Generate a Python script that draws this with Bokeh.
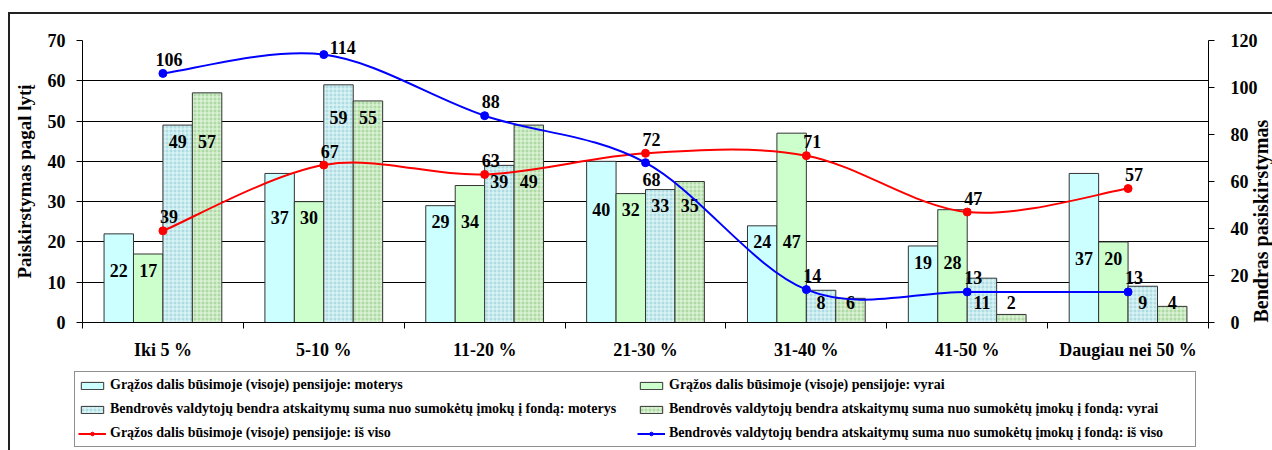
import math
import numpy as np
from bokeh.plotting import figure
from bokeh.layouts import column
from bokeh.models import Range1d, LinearAxis, FixedTicker, Legend, LegendItem
from bokeh.core.properties import value
from bokeh.embed import file_html
from bokeh.resources import INLINE

# ---------------- data ----------------
categories = ["Iki 5 %", "5-10 %", "11-20 %", "21-30 %", "31-40 %", "41-50 %", "Daugiau nei 50 %"]
grazos_moterys = [22, 37, 29, 40, 24, 19, 37]
grazos_vyrai = [17, 30, 34, 32, 47, 28, 20]
bendroves_moterys = [49, 59, 39, 33, 8, 11, 9]
bendroves_vyrai = [57, 55, 49, 35, 6, 2, 4]
grazos_is_viso = [39, 67, 63, 72, 71, 47, 57]
bendroves_is_viso = [106, 114, 88, 68, 14, 13, 13]

bar_names = [
    "Grąžos dalis būsimoje (visoje) pensijoje: moterys",
    "Grąžos dalis būsimoje (visoje) pensijoje: vyrai",
    "Bendrovės valdytojų bendra atskaitymų suma nuo sumokėtų įmokų į fondą: moterys",
    "Bendrovės valdytojų bendra atskaitymų suma nuo sumokėtų įmokų į fondą: vyrai",
]
line_names = [
    "Grąžos dalis būsimoje (visoje) pensijoje: iš viso",
    "Bendrovės valdytojų bendra atskaitymų suma nuo sumokėtų įmokų į fondą: iš viso",
]
left_ticks = [0, 10, 20, 30, 40, 50, 60, 70]
right_ticks = [0, 20, 40, 60, 80, 100, 120]
left_title = "Paiskirstymas pagal lytį"
right_title = "Bendras pasiskirstymas"

# ---------------- styling ----------------
FONT = "Liberation Serif"
RED = "#FF0000"
BLUE = "#0000FF"
TOTAL_W = 1262

p = figure(frame_width=1126, frame_height=282, output_backend="svg", toolbar_location=None,
           x_range=Range1d(-0.5, 6.5), y_range=Range1d(0, 70),
           x_axis_type=None,
           min_border_left=66, min_border_right=70, min_border_top=26, min_border_bottom=46)
p.extra_y_ranges = {"right": Range1d(0, 120)}
p.outline_line_color = None
p.background_fill_color = "white"
p.border_fill_color = "white"


def style_axis(ax):
    ax.axis_line_color = "black"
    ax.axis_line_width = 1
    ax.major_tick_line_color = "black"
    ax.minor_tick_line_color = "black"
    ax.major_label_text_font = FONT
    ax.major_label_text_font_style = "bold"
    ax.major_label_text_font_size = "18px"
    ax.major_label_text_color = "black"
    ax.axis_label_text_font = FONT
    ax.axis_label_text_font_style = "bold"
    ax.axis_label_text_font_size = "19px"
    ax.axis_label_text_color = "black"


ly = p.yaxis[0]
ly.ticker = FixedTicker(ticks=left_ticks)
style_axis(ly)
ly.axis_label = left_title
ly.major_tick_out = 6
ly.major_tick_in = 0
ly.minor_tick_out = 0
ly.minor_tick_in = 0
ly.major_label_standoff = 11
ly.axis_label_standoff = 10

ry = LinearAxis(y_range_name="right", ticker=FixedTicker(ticks=right_ticks))
style_axis(ry)
ry.axis_label = right_title
ry.axis_label_text_font_size = "20px"
ry.major_tick_out = 6
ry.major_tick_in = 0
ry.minor_tick_out = 0
ry.minor_tick_in = 0
ry.major_label_standoff = 16
ry.axis_label_standoff = 0
props = LinearAxis.properties()
if "axis_label_orientation" in props:
    ry.axis_label_orientation = math.pi / 2
if "axis_label_align" in props:
    ry.axis_label_align = "start"
p.add_layout(ry, "right")

xs = np.arange(len(categories))
xa = LinearAxis(ticker=FixedTicker(ticks=[int(i) for i in xs],
                                   minor_ticks=[float(i) - 0.5 for i in range(len(categories) + 1)]))
style_axis(xa)
xa.major_label_overrides = {int(i): c for i, c in enumerate(categories)}
xa.major_tick_out = 0
xa.major_tick_in = 0
xa.minor_tick_out = 6
xa.minor_tick_in = 0
xa.major_label_standoff = 11
p.add_layout(xa, "below")

p.ygrid.ticker = FixedTicker(ticks=left_ticks)
p.ygrid.grid_line_color = "black"
p.ygrid.grid_line_width = 1

# ---------------- bars ----------------
bw = 0.183
offsets = [-1.5 * bw, -0.5 * bw, 0.5 * bw, 1.5 * bw]
bar_series = [grazos_moterys, grazos_vyrai, bendroves_moterys, bendroves_vyrai]
bar_styles = [
    dict(fill_color="#CCFFFF"),
    dict(fill_color="#CCFFCC"),
    dict(fill_color="#AEDCE2", hatch_pattern="+", hatch_color="#E6FBFB", hatch_scale=4, hatch_weight=1),
    dict(fill_color="#AEDAA6", hatch_pattern="+", hatch_color="#E6F8E0", hatch_scale=4, hatch_weight=1),
]
for vals, off, st in zip(bar_series, offsets, bar_styles):
    p.vbar(x=xs + off, top=vals, bottom=0, width=bw, line_color="#333333", line_width=1, **st)

# bar labels: shared height per pair of bars, inside the lower bar
pairs = [(0, 1), (0, 1), (2, 3), (2, 3)]
for k, (vals, off) in enumerate(zip(bar_series, offsets)):
    a, b = pairs[k]
    ly_pos = [max(min(bar_series[a][i], bar_series[b][i]) - 4, 5) for i in range(len(categories))]
    p.text(x=xs + off, y=ly_pos, text=[str(v) for v in vals],
           text_align="center", text_baseline="middle",
           text_font=value(FONT), text_font_style="bold", text_font_size="18px", text_color="black")


# ---------------- smoothed lines ----------------
def smooth_segments(x, y):
    n = len(x)
    P = list(zip(map(float, x), map(float, y)))
    d = dict(x0=[], y0=[], x1=[], y1=[], cx0=[], cy0=[], cx1=[], cy1=[])
    for i in range(n - 1):
        p0 = P[max(i - 1, 0)]
        p1 = P[i]
        p2_ = P[i + 1]
        p3 = P[min(i + 2, n - 1)]
        d["x0"].append(p1[0]); d["y0"].append(p1[1])
        d["x1"].append(p2_[0]); d["y1"].append(p2_[1])
        d["cx0"].append(p1[0] + (p2_[0] - p0[0]) / 6.0)
        d["cy0"].append(p1[1] + (p2_[1] - p0[1]) / 6.0)
        d["cx1"].append(p2_[0] - (p3[0] - p1[0]) / 6.0)
        d["cy1"].append(p2_[1] - (p3[1] - p1[1]) / 6.0)
    return d


line_series = [(grazos_is_viso, RED), (bendroves_is_viso, BLUE)]
for vals, col in line_series:
    seg = smooth_segments(xs, vals)
    p.bezier(line_color=col, line_width=2, y_range_name="right", **seg)
    p.scatter(x=xs, y=vals, size=8, marker="circle", fill_color=col, line_color=col,
              y_range_name="right")


# line labels: above the point; to the right when near the top; below when the other line is just above
def label_offsets(vals, other):
    dx, dy = [], []
    for v, o in zip(vals, other):
        if v > 110:
            dx.append(19); dy.append(-7)
        elif 0 < (o - v) < 8:
            dx.append(6); dy.append(17)
        else:
            dx.append(6); dy.append(-14)
    return dx, dy


for vals, other in [(grazos_is_viso, bendroves_is_viso), (bendroves_is_viso, grazos_is_viso)]:
    dx, dy = label_offsets(vals, other)
    p.text(x=xs, y=vals, text=[str(v) for v in vals], x_offset=dx, y_offset=dy,
           text_align="center", text_baseline="middle", y_range_name="right",
           text_font=value(FONT), text_font_style="bold", text_font_size="18px", text_color="black")

# ---------------- legend strip (separate canvas below the chart) ----------------
# The strip's ranges lie outside the data, so its renderers only feed the legend swatches.
LEG_H = 82
pl = figure(frame_width=TOTAL_W, frame_height=LEG_H, output_backend="svg", toolbar_location=None,
            x_range=Range1d(-1000, -999), y_range=Range1d(-1000, -999),
            x_axis_type=None, y_axis_type=None,
            min_border_left=0, min_border_right=0, min_border_top=0, min_border_bottom=0)
pl.outline_line_color = None
pl.grid.visible = False
pl.background_fill_color = "white"
pl.border_fill_color = "white"

proxies = []
for vals, off, st in zip(bar_series, offsets, bar_styles):
    proxies.append([pl.vbar(x=xs + off, top=vals, bottom=0, width=bw,
                            line_color="#333333", line_width=1, **st)])
for vals, col in line_series:
    proxies.append([pl.line(x=xs, y=vals, line_color=col, line_width=2),
                    pl.scatter(x=xs, y=vals, size=8, marker="circle", fill_color=col, line_color=col)])

names = bar_names + line_names
items = [LegendItem(label=n, renderers=r) for n, r in zip(names, proxies)]
legend = Legend(items=items, ncols=2, orientation="horizontal", location=(64, 3), margin=0,
                padding=3, spacing=4, glyph_width=28, glyph_height=9,
                label_width=523, label_height=20, label_standoff=4,
                label_text_font=FONT, label_text_font_style="bold", label_text_font_size="14px",
                label_text_color="black",
                border_line_color="#222222", border_line_width=1.5,
                background_fill_color="white", background_fill_alpha=1.0)
pl.add_layout(legend, "center")

layout = column(p, pl, spacing=0)
layout.styles = {"margin-left": "8px", "margin-top": "12px",
                 "border-left": "2px solid #222", "border-top": "2px solid #222"}

open("out.html", "w").write(file_html(layout, INLINE))
